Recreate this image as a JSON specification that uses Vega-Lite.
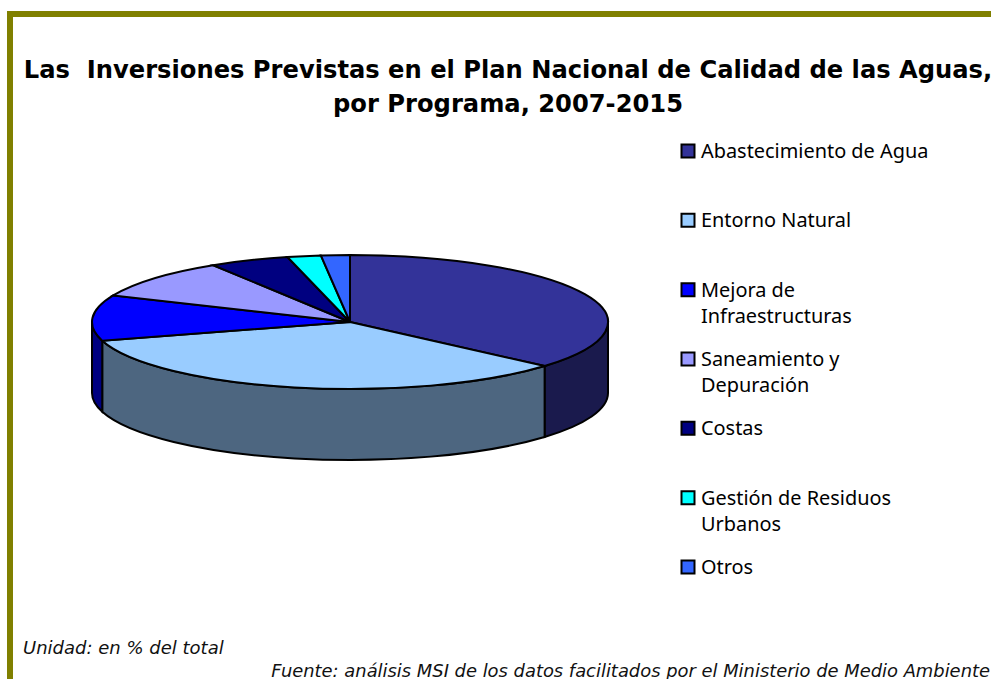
{
"$schema":"https://vega.github.io/schema/vega-lite/v6.json",
"width":991,"height":679,"padding":0,"autosize":"none",
"background":"white",
"view":{"stroke":null},
"title":{"text":["Las \u00a0Inversiones Previstas en el Plan Nacional de Calidad de las Aguas,","por Programa, 2007-2015"],"anchor":"middle","frame":"group","orient":"top","offset":-136,"dx":12.5,"font":"DejaVu Sans","fontSize":24.2,"fontWeight":"bold","color":"black","lineHeight":34,"baseline":"alphabetic"},
"data":{"values":[
{"orden":1,"programa":"Abastecimiento de Agua","pct":36.4},
{"orden":2,"programa":"Entorno Natural","pct":34.1},
{"orden":3,"programa":"Mejora de Infraestructuras","pct":11.0},
{"orden":4,"programa":"Saneamiento y Depuración","pct":9.6},
{"orden":5,"programa":"Costas","pct":5.0},
{"orden":6,"programa":"Gestión de Residuos Urbanos","pct":2.1},
{"orden":7,"programa":"Otros","pct":1.8}
]},
"layer":[
{"data":{"values":[{"a":7,"b":14,"c":991}]},"mark":{"type":"rule","color":"#808000","strokeWidth":6},
 "encoding":{"x":{"field":"a","type":"quantitative","scale":{"domain":[0,991],"range":[0,991]},"axis":null},"x2":{"field":"c"},"y":{"field":"b","type":"quantitative","scale":{"domain":[0,679],"range":[0,679]},"axis":null}}},
{"data":{"values":[{"a":10,"b":11,"d":679}]},"mark":{"type":"rule","color":"#808000","strokeWidth":6},
 "encoding":{"x":{"field":"a","type":"quantitative","scale":{"domain":[0,991],"range":[0,991]},"axis":null},"y":{"field":"b","type":"quantitative","scale":{"domain":[0,679],"range":[0,679]},"axis":null},"y2":{"field":"d"}}},
{"transform":[
 {"window":[{"op":"sum","field":"pct","as":"acum"}],"sort":[{"field":"orden"}]},
 {"calculate":"max((datum.acum-datum.pct)/100*2*PI,PI/2)","as":"a0"},
 {"calculate":"min(datum.acum/100*2*PI,3*PI/2)","as":"a1"},
 {"filter":"datum.a1>datum.a0"},
 {"calculate":"round(25800*sin(datum.a0))/100","as":"x0"},
 {"calculate":"round(-6700*cos(datum.a0))/100","as":"y0"},
 {"calculate":"round(25800*sin(datum.a1))/100","as":"x1"},
 {"calculate":"round(-6700*cos(datum.a1))/100","as":"y1"},
 {"calculate":"'M'+datum.x0+','+datum.y0+'A258,67 0 0 1 '+datum.x1+','+datum.y1+'L'+datum.x1+','+(datum.y1+71)+'A258,67 0 0 0 '+datum.x0+','+(datum.y0+71)+'Z'","as":"ruta"}
],
 "mark":{"type":"point","filled":true,"size":4,"opacity":1,"stroke":"black","strokeWidth":2},
 "encoding":{
  "x":{"datum":350,"type":"quantitative","scale":{"domain":[0,991],"range":[0,991]},"axis":null},
  "y":{"datum":322,"type":"quantitative","scale":{"domain":[0,679],"range":[0,679]},"axis":null},
  "shape":{"field":"ruta","type":"nominal","scale":null,"legend":null},
  "fill":{"field":"programa","type":"nominal","legend":null,"scale":{"domain":["Abastecimiento de Agua","Entorno Natural","Mejora de Infraestructuras"],"range":["#1A1A4D","#4D6680","#000080"]}}
 }},
{"transform":[
 {"window":[{"op":"sum","field":"pct","as":"acum"}],"sort":[{"field":"orden"}]},
 {"calculate":"(datum.acum-datum.pct)/100*2*PI","as":"a0"},
 {"calculate":"datum.acum/100*2*PI","as":"a1"},
 {"calculate":"round(25800*sin(datum.a0))/100","as":"x0"},
 {"calculate":"round(-6700*cos(datum.a0))/100","as":"y0"},
 {"calculate":"round(25800*sin(datum.a1))/100","as":"x1"},
 {"calculate":"round(-6700*cos(datum.a1))/100","as":"y1"},
 {"calculate":"'M0,0L'+datum.x0+','+datum.y0+'A258,67 0 '+(datum.a1-datum.a0>PI?1:0)+' 1 '+datum.x1+','+datum.y1+'Z'","as":"ruta"}
],
 "mark":{"type":"point","filled":true,"size":4,"opacity":1,"stroke":"black","strokeWidth":2},
 "encoding":{
  "x":{"datum":350,"type":"quantitative","scale":{"domain":[0,991],"range":[0,991]},"axis":null},
  "y":{"datum":322,"type":"quantitative","scale":{"domain":[0,679],"range":[0,679]},"axis":null},
  "shape":{"field":"ruta","type":"nominal","scale":null,"legend":null},
  "fill":{"field":"programa","type":"nominal","legend":null,"scale":{"domain":["Abastecimiento de Agua","Entorno Natural","Mejora de Infraestructuras","Saneamiento y Depuración","Costas","Gestión de Residuos Urbanos","Otros"],"range":["#333399","#99CCFF","#0000FF","#9999FF","#000080","#00FFFF","#3366FF"]}}
 }},
{"mark":{"type":"square","size":169,"opacity":1,"stroke":"black","strokeWidth":2},
 "encoding":{
  "x":{"datum":688,"type":"quantitative","scale":{"domain":[0,991],"range":[0,991]},"axis":null},
  "y":{"field":"programa","type":"nominal","sort":{"field":"orden"},"scale":{"type":"point","padding":0,"domain":["Abastecimiento de Agua","Entorno Natural","Mejora de Infraestructuras","Saneamiento y Depuración","Costas","Gestión de Residuos Urbanos","Otros"],"range":[151,567]},"axis":null},
  "fill":{"field":"programa","type":"nominal","legend":null,"scale":{"domain":["Abastecimiento de Agua","Entorno Natural","Mejora de Infraestructuras","Saneamiento y Depuración","Costas","Gestión de Residuos Urbanos","Otros"],"range":["#333399","#99CCFF","#0000FF","#9999FF","#000080","#00FFFF","#3366FF"]}}
 }},
{"transform":[{"calculate":"datum.programa=='Mejora de Infraestructuras'?'Mejora de\\nInfraestructuras':datum.programa=='Saneamiento y Depuración'?'Saneamiento y\\nDepuración':datum.programa=='Gestión de Residuos Urbanos'?'Gestión de Residuos\\nUrbanos':datum.programa","as":"etiqueta"}],
 "mark":{"type":"text","align":"left","baseline":"line-top","dy":-12,"font":"Noto Sans","fontSize":19.9,"lineHeight":26,"lineBreak":"\n","color":"black"},
 "encoding":{
  "x":{"datum":701,"type":"quantitative","scale":{"domain":[0,991],"range":[0,991]},"axis":null},
  "y":{"field":"programa","type":"nominal","scale":{"type":"point","padding":0,"domain":["Abastecimiento de Agua","Entorno Natural","Mejora de Infraestructuras","Saneamiento y Depuración","Costas","Gestión de Residuos Urbanos","Otros"],"range":[151,567]},"axis":null},
  "text":{"field":"etiqueta"}
 }},
{"data":{"values":[{"nota":"Unidad: en % del total","x":23,"y":649}]},
 "mark":{"type":"text","align":"left","baseline":"middle","font":"DejaVu Sans","fontStyle":"italic","fontSize":18,"color":"#111111"},
 "encoding":{"x":{"field":"x","type":"quantitative","scale":{"domain":[0,991],"range":[0,991]},"axis":null},"y":{"field":"y","type":"quantitative","scale":{"domain":[0,679],"range":[0,679]},"axis":null},"text":{"field":"nota"}}},
{"data":{"values":[{"nota":"Fuente: análisis MSI de los datos facilitados por el Ministerio de Medio Ambiente","x":990,"y":672}]},
 "mark":{"type":"text","align":"right","baseline":"middle","font":"DejaVu Sans","fontStyle":"italic","fontSize":17.9,"color":"#111111"},
 "encoding":{"x":{"field":"x","type":"quantitative","scale":{"domain":[0,991],"range":[0,991]},"axis":null},"y":{"field":"y","type":"quantitative","scale":{"domain":[0,679],"range":[0,679]},"axis":null},"text":{"field":"nota"}}}
],
"resolve":{"scale":{"x":"independent","y":"independent","fill":"independent","shape":"independent"}}
}
